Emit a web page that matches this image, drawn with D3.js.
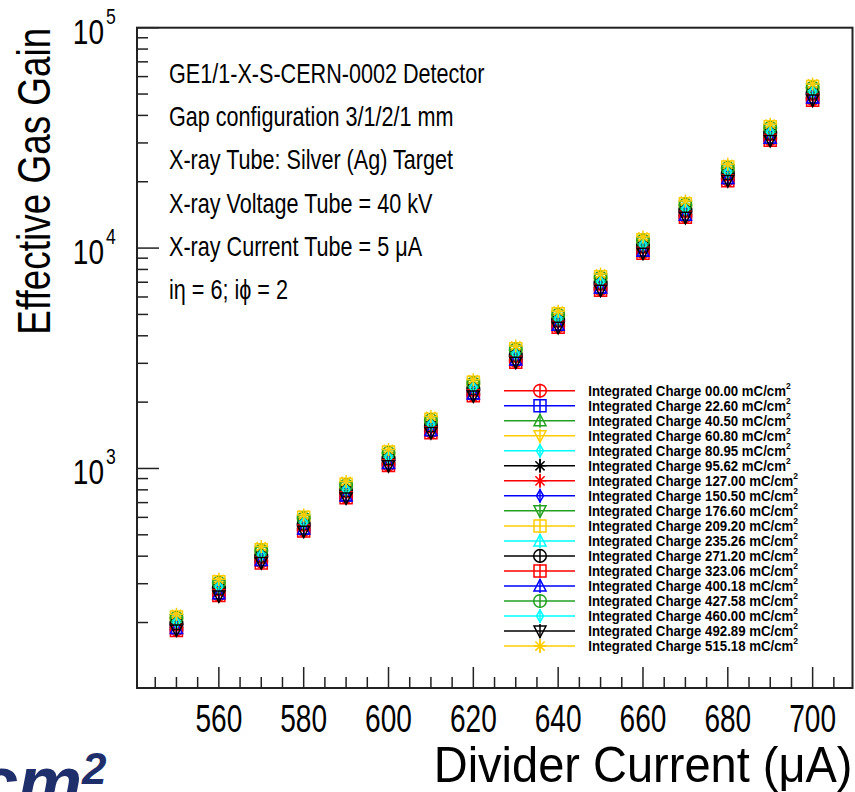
<!DOCTYPE html>
<html>
<head>
<meta charset="utf-8">
<script src="https://cdn.jsdelivr.net/npm/d3@7"></script>
<style>
  html, body { margin: 0; padding: 0; background: #fff; }
  svg { display: block; }
  text { font-family: "Liberation Sans", Arial, Helvetica, sans-serif; }
</style>
</head>
<body>
<svg id="chart" width="855" height="792"></svg>
<script>
// divider current (uA)
const current = [550, 560, 570, 580, 590, 600, 610, 620, 630, 640, 650, 660, 670, 680, 690, 700];

// effective gas gain, one array per integrated charge
const gain_000_00 = [186, 267, 378, 526, 745, 1040, 1470, 2160, 3070, 4420, 6510, 9580, 13950, 20460, 31200, 47400];
const gain_022_60 = [190, 273, 386, 536, 761, 1065, 1500, 2205, 3135, 4510, 6650, 9790, 14250, 20900, 31800, 48500];
const gain_040_50 = [201, 287, 406, 564, 802, 1118, 1582, 2318, 3305, 4745, 7010, 10290, 15020, 21980, 33550, 50900];
const gain_060_80 = [196, 283, 396, 553, 785, 1097, 1550, 2272, 3236, 4650, 6865, 10090, 14690, 21570, 32820, 49950];
const gain_080_95 = [204, 293, 414, 577, 815, 1143, 1610, 2368, 3364, 4850, 7135, 10510, 15290, 22450, 34160, 52050];
const gain_095_62 = [194, 280, 392, 549, 775, 1087, 1531, 2252, 3200, 4605, 6795, 9990, 14560, 21330, 32500, 49450];
const gain_127_00 = [192, 277, 388, 543, 767, 1076, 1515, 2228, 3170, 4562, 6718, 9890, 14410, 21110, 32170, 48950];
const gain_150_50 = [202, 290, 410, 570, 809, 1132, 1595, 2345, 3330, 4800, 7068, 10400, 15160, 22210, 33840, 51500];
const gain_176_60 = [206, 296, 418, 581, 825, 1153, 1628, 2388, 3400, 4890, 7215, 10610, 15440, 22670, 34500, 52550];
const gain_209_20 = [212, 306, 428, 600, 847, 1188, 1674, 2460, 3495, 5040, 7415, 10920, 15890, 23330, 35500, 54100];
const gain_235_26 = [208, 299, 422, 587, 833, 1164, 1644, 2412, 3435, 4938, 7285, 10710, 15610, 22870, 34850, 53000];
const gain_271_20 = [198, 286, 400, 560, 791, 1110, 1563, 2298, 3265, 4705, 6928, 10200, 14840, 21790, 33160, 50500];
const gain_323_06 = [184, 265, 372, 521, 737, 1031, 1453, 2136, 3035, 4372, 6442, 9475, 13810, 20230, 30830, 46900];
const gain_400_18 = [188, 270, 382, 532, 751, 1054, 1486, 2180, 3104, 4463, 6582, 9680, 14110, 20670, 31500, 47950];
const gain_427_58 = [210, 303, 424, 594, 839, 1177, 1658, 2437, 3466, 4985, 7352, 10820, 15740, 23110, 35170, 53560];
const gain_460_00 = [200, 289, 404, 566, 799, 1121, 1579, 2322, 3298, 4752, 6998, 10305, 14990, 22010, 33490, 51050];
const gain_492_89 = [185, 264, 374, 519, 735, 1029, 1455, 2133, 3037, 4368, 6438, 9478, 13790, 20250, 30810, 46950];
const gain_515_18 = [218, 314, 442, 615, 873, 1220, 1723, 2528, 3598, 5175, 7632, 11230, 16340, 23990, 36510, 55600];

const charges = ["00.00", "22.60", "40.50", "60.80", "80.95", "95.62", "127.00", "150.50", "176.60",
  "209.20", "235.26", "271.20", "323.06", "400.18", "427.58", "460.00", "492.89", "515.18"];
const colors = ["#ff0000", "#0000ff", "#22a022", "#ffcc00", "#00ffff", "#000000", "#ff0000", "#0000ff", "#22a022",
  "#ffcc00", "#00ffff", "#000000", "#ff0000", "#0000ff", "#22a022", "#00ffff", "#000000", "#ffcc00"];
const shapes = ["circle", "square", "triUp", "triDown", "diamond", "star", "star", "diamond", "triDown",
  "square", "triUp", "circle", "square", "triUp", "circle", "diamond", "triDown", "star"];
const gains = [gain_000_00, gain_022_60, gain_040_50, gain_060_80, gain_080_95, gain_095_62, gain_127_00,
  gain_150_50, gain_176_60, gain_209_20, gain_235_26, gain_271_20, gain_323_06, gain_400_18, gain_427_58,
  gain_460_00, gain_492_89, gain_515_18];

const xTicks = [560, 580, 600, 620, 640, 660, 680, 700];
const yExps = [3, 4, 5];

const infoLines = [
  "GE1/1-X-S-CERN-0002 Detector",
  "Gap configuration 3/1/2/1 mm",
  "X-ray Tube: Silver (Ag) Target",
  "X-ray Voltage Tube = 40 kV",
  "X-ray Current Tube = 5 \u03bcA",
  "i\u03b7 = 6; i\u03d5 = 2"
];

const svg = d3.select("#chart");

const frame = { left: 137, right: 852.5, top: 27.7, bottom: 688 };
const x = d3.scaleLinear().domain([540.7, 709.4]).range([frame.left, frame.right]);
const y = d3.scaleLog().domain([100.9, 1e5]).range([frame.bottom, frame.top]);

// ROOT's Helvetica comes out narrow: squeeze glyphs along the baseline
function label(parent, px, py, str, size, opts = {}) {
  return parent.append("text")
    .attr("transform", `translate(${px},${py})` + (opts.rot ? ` rotate(${opts.rot})` : "") + ` scale(${opts.sx ?? 0.8},1)`)
    .attr("text-anchor", opts.anchor || "start")
    .attr("font-size", size)
    .attr("font-weight", opts.bold ? "bold" : null)
    .attr("fill", opts.fill || "#000")
    .text(str);
}

// marker shapes (ROOT-like, open)
function markerPath(type) {
  switch (type) {
    case "circle": return d3.symbol(d3.symbolCircle, Math.PI * 6.3 * 6.3)();
    case "square": return "M-6,-6H6V6H-6Z";
    case "triUp": return "M0,-6.5L6,5L-6,5Z";
    case "triDown": return "M0,6.5L6,-5L-6,-5Z";
    case "diamond": return "M0,-6L3.5,0L0,6L-3.5,0Z";
    case "star": return "M-6.5,0H6.5M0,-6.5V6.5M-4.6,-4.6L4.6,4.6M-4.6,4.6L4.6,-4.6";
  }
}
function innerLines(type) {
  // error bar segments show through the open markers
  if (type === "circle" || type === "square") return "M-6,0H6M0,-6V6";
  if (type === "triUp") return "M0,-6.5V5";
  if (type === "triDown") return "M0,-5V6.5";
  if (type === "diamond") return "M0,-6V6";
  return "";
}

// data points
const plot = svg.append("g");
gains.forEach((vals, i) => {
  plot.append("g").selectAll("g")
    .data(vals.map((v, k) => ({ c: current[k], v })))
    .join("g")
    .attr("transform", d => `translate(${x(d.c)},${y(d.v)})`)
    .each(function () {
      const g = d3.select(this);
      g.append("path").attr("d", markerPath(shapes[i]))
        .attr("fill", "none").attr("stroke", colors[i]).attr("stroke-width", 1.5);
      g.append("path").attr("d", innerLines(shapes[i]))
        .attr("fill", "none").attr("stroke", colors[i]).attr("stroke-width", 1.2);
    });
});

// frame
svg.append("rect")
  .attr("x", frame.left).attr("y", frame.top)
  .attr("width", frame.right - frame.left).attr("height", frame.bottom - frame.top)
  .attr("fill", "none").attr("stroke", "#222").attr("stroke-width", 2);

// x ticks
const xMinor = d3.range(545, 710, 5).filter(v => v % 20 !== 0);
svg.append("g").selectAll("line").data(xMinor).join("line")
  .attr("x1", d => x(d)).attr("x2", d => x(d))
  .attr("y1", frame.bottom).attr("y2", frame.bottom - 11)
  .attr("stroke", "#222").attr("stroke-width", 1.5);
svg.append("g").selectAll("line").data(xTicks).join("line")
  .attr("x1", d => x(d)).attr("x2", d => x(d))
  .attr("y1", frame.bottom).attr("y2", frame.bottom - 21)
  .attr("stroke", "#222").attr("stroke-width", 1.5);
xTicks.forEach(v => label(svg, x(v), 732, String(v), 39, { anchor: "middle", sx: 0.72 }));

// y ticks
const yMinor = [];
[100, 1000, 10000].forEach(dec => d3.range(2, 10).forEach(k => yMinor.push(k * dec)));
svg.append("g").selectAll("line").data(yMinor.filter(v => v > 100.9)).join("line")
  .attr("x1", frame.left).attr("x2", frame.left + 11)
  .attr("y1", d => y(d)).attr("y2", d => y(d))
  .attr("stroke", "#222").attr("stroke-width", 1.5);
svg.append("g").selectAll("line").data(yExps.map(e => Math.pow(10, e))).join("line")
  .attr("x1", frame.left).attr("x2", frame.left + 22)
  .attr("y1", d => y(d)).attr("y2", d => y(d))
  .attr("stroke", "#222").attr("stroke-width", 1.5);
yExps.forEach(e => {
  const py = y(Math.pow(10, e));
  label(svg, 104, py + 16, "10", 35, { anchor: "end", sx: 0.8 });
  label(svg, 106, py - 4, String(e), 22, { sx: 0.8 });
});

// axis titles
label(svg, frame.right, 782, "Divider Current (\u03bcA)", 50, { anchor: "end", sx: 0.94 });
label(svg, 50, frame.top, "Effective Gas Gain", 47, { anchor: "end", rot: -90, sx: 0.785 });

// info text
infoLines.forEach((t, i) => label(svg, 169, 83 + i * 43.2, t, 27, { sx: 0.8 }));

// legend
const leg = svg.append("g");
charges.forEach((c, i) => {
  const cy = 390.7 + i * 15.02;
  const row = leg.append("g");
  row.append("line").attr("x1", 504).attr("x2", 575).attr("y1", cy).attr("y2", cy)
    .attr("stroke", colors[i]).attr("stroke-width", 1.5);
  const m = row.append("g").attr("transform", `translate(540,${cy})`);
  m.append("path").attr("d", "M0,-7V7").attr("stroke", colors[i]).attr("stroke-width", 1.5);
  m.append("path").attr("d", markerPath(shapes[i]))
    .attr("fill", "none").attr("stroke", colors[i]).attr("stroke-width", 1.5);
  const t = row.append("text")
    .attr("transform", `translate(588.3,${cy + 5}) scale(0.945,1)`)
    .attr("font-size", 14).attr("font-weight", "bold");
  t.append("tspan").text(`Integrated Charge ${c} mC/cm`);
  t.append("tspan").attr("dy", -7).attr("font-size", 9).text("2");
});

// clipped slide text at bottom-left
svg.append("text")
  .attr("x", -22).attr("y", 807)
  .attr("font-family", "'DejaVu Serif', serif")
  .attr("font-style", "italic").attr("font-weight", "bold")
  .attr("font-size", 72).attr("fill", "#1f2f6b")
  .text("cm")
  .append("tspan").attr("dy", -23).attr("font-size", 44).text("2");
</script>
</body>
</html>
